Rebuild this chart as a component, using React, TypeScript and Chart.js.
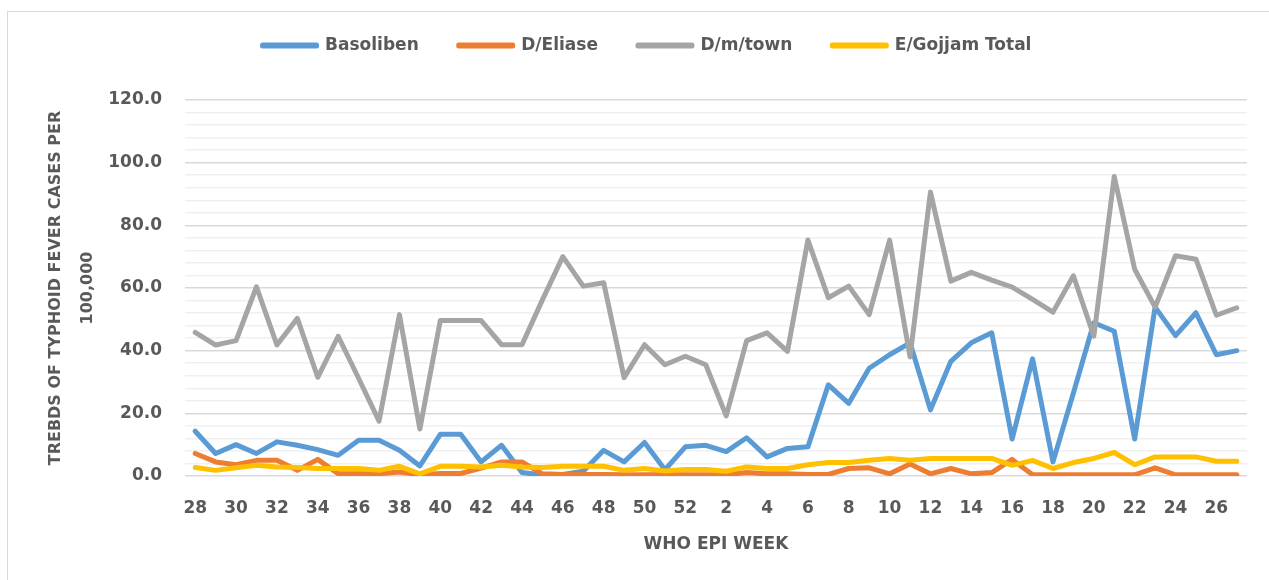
import React, { useEffect, useRef } from 'react';
import { Chart, registerables } from 'chart.js';

Chart.register(...registerables);

const weeks = [
  '28', '29', '30', '31', '32', '33', '34', '35', '36', '37', '38', '39', '40', '41', '42', '43', '44',
  '45', '46', '47', '48', '49', '50', '51', '52',
  '1', '2', '3', '4', '5', '6', '7', '8', '9', '10', '11', '12', '13', '14', '15', '16', '17', '18',
  '19', '20', '21', '22', '23', '24', '25', '26', '27',
];

const basoliben = [
  14.3, 7.2, 10.0, 7.2, 10.9, 9.8, 8.4, 6.6, 11.4, 11.4, 8.2, 3.2, 13.3, 13.3, 4.5, 9.8, 1.1,
  0.3, 0.5, 1.5, 8.2, 4.5, 10.7, 2.0, 9.3,
  9.8, 7.8, 12.2, 6.1, 8.8, 9.3, 29.1, 23.2, 34.4, 38.7, 42.5, 21.1, 36.6, 42.5, 45.7, 11.8, 37.4, 4.5,
  26.5, 48.9, 46.2, 11.8, 53.9, 44.8, 52.1, 38.7, 40.0,
];

const dEliase = [
  7.2, 4.5, 3.6, 5.0, 5.0, 1.8, 5.3, 0.7, 0.7, 0.7, 1.3, 0.4, 0.8, 0.8, 2.5, 4.5, 4.5,
  0.7, 0.5, 0.5, 0.5, 0.4, 0.4, 0.5, 0.4,
  0.4, 0.4, 1.1, 0.7, 0.7, 0.5, 0.5, 2.4, 2.6, 0.7, 3.8, 0.7, 2.4, 0.7, 1.1, 5.3, 0.4, 0.4,
  0.4, 0.4, 0.4, 0.4, 2.6, 0.4, 0.4, 0.4, 0.4,
];

const dmTown = [
  45.8, 41.8, 43.2, 60.4, 41.8, 50.3, 31.5, 44.6, 31.2, 17.5, 51.5, 15.0, 49.6, 49.6, 49.6, 41.9, 41.9,
  56.2, 70.0, 60.6, 61.7, 31.4, 41.9, 35.5, 38.2,
  35.5, 19.2, 43.2, 45.7, 39.8, 75.3, 56.9, 60.6, 51.5, 75.3, 38.0, 90.6, 62.2, 65.0, 62.5, 60.3, 56.4, 52.3,
  63.9, 44.6, 95.6, 66.0, 53.9, 70.3, 69.2, 51.3, 53.7,
];

const eGojjamTotal = [
  2.7, 1.8, 2.6, 3.4, 2.9, 2.7, 2.4, 2.4, 2.4, 1.8, 3.1, 0.7, 3.1, 3.1, 2.9, 3.4, 2.9,
  2.7, 3.1, 3.1, 3.1, 1.8, 2.4, 1.6, 2.1,
  2.1, 1.5, 2.9, 2.4, 2.4, 3.6, 4.3, 4.3, 5.0, 5.6, 5.0, 5.6, 5.6, 5.6, 5.6, 3.4, 5.0, 2.4,
  4.3, 5.6, 7.5, 3.6, 6.1, 6.1, 6.1, 4.7, 4.7,
];

const seriesNames = ['Basoliben', 'D/Eliase', 'D/m/town', 'E/Gojjam Total'];
const seriesColors = ['#5B9BD5', '#ED7D31', '#A5A5A5', '#FFC000'];

const yTitle = ['TREBDS OF TYPHOID FEVER CASES PER', '100,000'];
const xTitle = 'WHO EPI WEEK';

const FONT = "'DejaVu Sans', sans-serif";
const TEXT = '#595959';

export default function App() {
  const ref = useRef<HTMLCanvasElement>(null);

  useEffect(() => {
    if (!ref.current) return;
    const legendSpacer = {
      id: 'legendSpacer',
      beforeInit(chart: any) {
        const legend = chart.legend;
        if (!legend) return;
        const fit = legend.fit;
        legend.fit = function () {
          fit.call(this);
          this.height += 36;
        };
      },
    };
    const values = [basoliben, dEliase, dmTown, eGojjamTotal];
    const chart = new Chart(ref.current, {
      type: 'line',
      data: {
        labels: weeks,
        datasets: values.map((v, i) => ({
          label: seriesNames[i],
          data: v,
          borderColor: seriesColors[i],
          backgroundColor: seriesColors[i],
          borderWidth: 5,
          pointRadius: 0,
          pointHoverRadius: 0,
          tension: 0,
          borderCapStyle: 'round',
          borderJoinStyle: 'round',
          order: 3 - i,
        })),
      },
      options: {
        responsive: false,
        animation: false,
        devicePixelRatio: 1,
        layout: { padding: { left: 47, right: 22, top: -3, bottom: 25 } },
        plugins: {
          tooltip: { enabled: false },
          legend: {
            position: 'top',
            labels: {
              boxWidth: 54,
              boxHeight: 1,
              padding: 40,
              color: TEXT,
              font: { family: FONT, size: 17, weight: 'bold' },
              sort: (a: any, b: any) => a.datasetIndex - b.datasetIndex,
            },
          },
        },
        scales: {
          x: {
            offset: true,
            afterFit: (scale: any) => {
              scale.height = 79;
            },
            grid: { display: false, drawTicks: false, offset: true },
            border: { display: false },
            ticks: {
              autoSkip: false,
              maxRotation: 0,
              padding: 22,
              color: TEXT,
              font: { family: FONT, size: 17, weight: 'bold' },
              callback: (_v: any, i: number) => (i % 2 === 0 ? weeks[i] : ''),
            },
            title: {
              display: true,
              text: xTitle,
              color: TEXT,
              font: { family: FONT, size: 17, weight: 'bold' },
              padding: { top: 16, bottom: 0 },
            },
          },
          y: {
            min: 0,
            max: 120,
            afterFit: (scale: any) => {
              scale.width = 138;
            },
            grid: {
              drawTicks: false,
              color: (ctx: any) => (ctx.tick && ctx.tick.value % 20 === 0 ? '#d9d9d9' : '#f0f0f0'),
              lineWidth: 1.5,
            },
            border: { display: false },
            ticks: {
              stepSize: 4,
              autoSkip: false,
              padding: 23,
              color: TEXT,
              font: { family: FONT, size: 17, weight: 'bold' },
              callback: (v: any) => (Number(v) % 20 === 0 ? Number(v).toFixed(1) : ''),
            },
            title: {
              display: true,
              text: yTitle,
              color: TEXT,
              font: { family: FONT, size: 16, weight: 'bold', lineHeight: 2 },
              padding: { top: -7, bottom: 0 },
            },
          },
        },
      },
      plugins: [legendSpacer],
    } as any);
    return () => chart.destroy();
  }, []);

  return (
    <div
      style={{
        position: 'fixed',
        left: 0,
        top: 0,
        width: 1269,
        height: 580,
        overflow: 'hidden',
        background: '#ffffff',
      }}
    >
      <div
        style={{
          position: 'absolute',
          left: 7,
          top: 11,
          width: 1300,
          height: 620,
          border: '1px solid #d9d9d9',
          boxSizing: 'border-box',
        }}
      />
      <canvas
        ref={ref}
        width={1269}
        height={580}
        style={{ position: 'absolute', left: 0, top: 0, width: 1269, height: 580 }}
      />
    </div>
  );
}
